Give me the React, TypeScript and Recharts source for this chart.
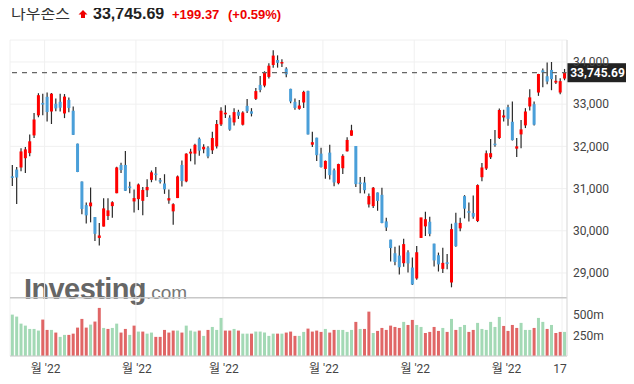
import { Bar, CartesianGrid, Cell, ComposedChart, ReferenceLine, XAxis, YAxis } from "recharts"

// Dow Jones daily candles, 2022-05-19 .. 2022-11-18
const opens = [
  31290, 31450, 31500, 31720, 31840, 32260, 32735, 33030, 33175, 32827, 33010, 33056, 32780, 33100, 32845, 32065,
  31167, 30608, 30580, 30325, 29830, 30100, 30350, 30584, 30890, 31560, 31560, 31050, 30695, 30750, 30710, 30960,
  31206, 31356, 31200, 31120, 30718, 30460, 30775, 31560, 31170, 31830, 31828, 32180, 31930, 31970, 31907, 32000,
  32520, 32760, 32680, 32568, 32820, 32513, 32961, 32830, 33126, 33457, 33440, 33646, 33929, 34047, 33969, 33843,
  33363, 33056, 32890, 33040, 33315, 32040, 32206, 31828, 31466, 31852, 31434, 31127, 31482, 31883, 32253, 32009,
  31143, 31143, 30624, 30584, 30907, 30852, 30222, 29790, 29467, 29412, 29231, 29490, 29128, 28870, 29830, 30104,
  30214, 29695, 29420, 29097, 29255, 28774, 30191, 30057, 30821, 30467, 30420, 30230, 31269, 31474, 31741, 32064,
  32198, 32686, 32930, 32583, 31946, 32284, 32497, 32946, 33000, 33276, 33803, 33662, 33811, 33512, 33276, 33607,
]
const highs = [
  31560, 31513, 31955, 31985, 32280, 32790, 33260, 33245, 33277, 33265, 33135, 33250, 33240, 33160, 32945, 32065,
  31167, 30670, 31025, 30325, 30183, 30773, 30773, 30700, 31515, 31610, 31890, 31160, 30980, 31120, 31040, 31220,
  31428, 31513, 31250, 31340, 30980, 30650, 31310, 31665, 31840, 31946, 32064, 32210, 32050, 32000, 32347, 32623,
  32930, 32977, 32740, 32906, 32867, 32830, 33120, 32906, 33386, 33670, 33780, 33969, 34281, 34157, 34063, 33874,
  33363, 33134, 33100, 33320, 33320, 32347, 32206, 31970, 31663, 32040, 31474, 31590, 31812, 32214, 32512, 32009,
  31277, 31277, 30883, 31040, 30907, 31017, 30309, 29790, 29624, 29648, 29813, 29537, 29364, 29640, 30310, 30451,
  30330, 29695, 29483, 29600, 29451, 30167, 30427, 30309, 30844, 30671, 30836, 31100, 31608, 31900, 32174, 32387,
  32900, 32867, 32985, 33063, 32198, 32623, 32906, 33355, 33063, 33720, 33843, 33987, 34000, 33690, 33614, 33835,
]
const lows = [
  31060, 30636, 31410, 31370, 31765, 32200, 32690, 32740, 32590, 32530, 32830, 32828, 32670, 32810, 32270, 31390,
  30390, 30170, 30200, 29760, 29653, 30100, 30254, 30310, 30890, 31370, 30945, 30890, 30435, 30490, 30370, 30800,
  31150, 31190, 31120, 30875, 30640, 30143, 30775, 31050, 31150, 31647, 31570, 31780, 31840, 31720, 31820, 31950,
  32480, 32670, 32370, 32497, 32650, 32497, 32790, 32710, 33100, 33280, 33400, 33607, 33866, 33866, 33882, 33638,
  33020, 32867, 32867, 32910, 32280, 31985, 31655, 31500, 31230, 31214, 31057, 31100, 31348, 31880, 32250, 31040,
  30891, 30883, 30553, 30540, 30474, 30180, 29994, 29270, 29184, 28963, 29150, 29010, 28715, 28840, 29830, 29876,
  29870, 29152, 29034, 29000, 29089, 28660, 29620, 29990, 30293, 30222, 30285, 30206, 31175, 31440, 31700, 31990,
  32174, 32591, 32489, 32140, 31749, 31954, 32434, 32851, 32497, 33197, 33402, 33470, 33331, 33480, 33237, 33567,
]
const closes = [
  31253, 31262, 31880, 31929, 32120, 32637, 33213, 32990, 32813, 33248, 32900, 32916, 33180, 32911, 32273, 31393,
  30517, 30365, 30669, 29927, 29889, 30530, 30483, 30677, 31501, 31438, 30947, 31029, 30775, 31097, 30968, 31038,
  31385, 31338, 31174, 30981, 30773, 30630, 31288, 31180, 31827, 31875, 32037, 31899, 31990, 31762, 32198, 32530,
  32845, 32798, 32396, 32812, 32727, 32803, 32833, 32774, 33310, 33337, 33761, 33912, 34152, 33980, 33999, 33707,
  33064, 32910, 32969, 33292, 32283, 32099, 31791, 31510, 31656, 31318, 31145, 31581, 31775, 32152, 32381, 31105,
  31135, 30962, 30822, 31020, 30706, 30184, 30077, 29590, 29261, 29135, 29684, 29226, 28726, 29491, 30316, 30274,
  29927, 29297, 29203, 29239, 29211, 30039, 29635, 30186, 30524, 30424, 30334, 31083, 31500, 31837, 31839, 32033,
  32862, 32733, 32653, 32148, 32001, 32403, 32827, 33161, 32514, 33715, 33748, 33537, 33593, 33554, 33546, 33746,
]
// volume, millions
const volumes = [
  500, 476, 391, 367, 327, 327, 307, 440, 315, 315, 283, 231, 255, 255, 270, 343,
  448, 343, 379, 416, 581, 339, 327, 339, 391, 283, 327, 255, 367, 295, 295, 270,
  283, 231, 231, 315, 283, 307, 307, 283, 367, 307, 295, 307, 243, 315, 351, 315,
  460, 307, 307, 327, 307, 270, 270, 270, 295, 295, 283, 243, 270, 270, 270, 283,
  295, 243, 243, 291, 331, 295, 307, 291, 327, 283, 315, 315, 315, 291, 315, 412,
  327, 327, 536, 278, 303, 339, 315, 367, 351, 339, 412, 375, 436, 375, 351, 278,
  291, 351, 303, 339, 291, 448, 315, 351, 375, 291, 315, 400, 327, 315, 412, 351,
  472, 363, 303, 375, 339, 400, 315, 315, 339, 460, 412, 327, 375, 278, 291, 291,
]

const tickIndex = [7.5, 28.5, 48.5, 71.5, 92.5, 113.5, 126.5]
const tickLabels = ["월 '22", "월 '22", "월 '22", "월 '22", "월 '22", "월 '22", "17"]
const priceTicks = [29000, 30000, 31000, 32000, 33000, 34000]
const volumeTicks = [250, 500]
const lastPrice = 33745.69
const change = "+199.37"
const changePct = "(+0.59%)"

// volume pane sits below this value on the volume axis
const VOL_PANE_TOP = 705

const data = closes.map((c, i) => ({
  i,
  o: opens[i],
  h: highs[i],
  l: lows[i],
  c,
  v: volumes[i],
  up: i === 0 || c >= closes[i - 1],
}))

const axisFont = "Roboto, 'Noto Sans CJK KR', sans-serif"

function Candle(props: any) {
  const { x, y, width, height, payload } = props
  const { o, h, l, c } = payload
  const top = Math.min(y, y + height)
  const span = Math.abs(height)
  const k = span / (h - l)
  const yo = top + (h - o) * k
  const yc = top + (h - c) * k
  const cx = x + width / 2
  return (
    <g>
      <line x1={cx} x2={cx} y1={top} y2={top + span} stroke="#2a2a2a" strokeWidth={1.2} />
      <rect
        x={x}
        y={Math.min(yo, yc)}
        width={width}
        height={Math.max(Math.abs(yc - yo), 1.5)}
        fill={c >= o ? "#ff0000" : "#4a9fd9"}
      />
    </g>
  )
}

function MonthTick({ x, y, payload }: any) {
  const label = tickLabels[tickIndex.indexOf(payload.value)]
  const last = label === "17"
  return (
    <text x={last ? x - 2 : x + 1} y={y + 17} textAnchor="middle" fontSize={12} fill="#444" fontFamily={axisFont}>
      {label}
    </text>
  )
}

function PriceTag({ viewBox }: any) {
  const x = viewBox.x + viewBox.width
  const y = viewBox.y
  return (
    <g>
      <rect x={x} y={y - 9.5} width={61} height={19} fill="#222" />
      <text x={x + 30.5} y={y + 4.5} textAnchor="middle" fill="#fff" fontSize={12} fontWeight="bold" fontFamily="Roboto">
        {lastPrice.toLocaleString("en-US", { minimumFractionDigits: 2 })}
      </text>
    </g>
  )
}

export default function App() {
  return (
    <div style={{ position: "relative", width: 626, height: 376 }}>
      <svg width={300} height={28} style={{ position: "absolute", left: -8, top: -8 }}>
        <text x={11} y={18.5} fontSize={16} fill="#333" fontFamily="'Noto Sans CJK KR', sans-serif">
          다우존스
        </text>
        <path d="M83 10 L87.5 14.5 L85 14.5 L85 18 L81 18 L81 14.5 L78.5 14.5 Z" fill="#e00" />
        <text x={93} y={19} fontSize={16} fontWeight="bold" fill="#222" fontFamily="'Liberation Sans', Arial, sans-serif">
          {lastPrice.toLocaleString("en-US", { minimumFractionDigits: 2 })}
        </text>
        <text x={172} y={19} fontSize={13} fontWeight="bold" fill="#e00" fontFamily="'Liberation Sans', Arial, sans-serif">
          {change}
        </text>
        <text x={228} y={19} fontSize={13} fontWeight="bold" fill="#e00" fontFamily="'Liberation Sans', Arial, sans-serif">
          {changePct}
        </text>
      </svg>

      <div
        style={{
          position: "absolute",
          left: 16,
          top: 267,
          fontFamily: "'Liberation Sans', Arial, sans-serif",
          lineHeight: "29px",
          whiteSpace: "nowrap",
        }}
      >
        <span style={{ fontSize: 29, fontWeight: "bold", color: "#666", letterSpacing: -0.6 }}>Investing</span>
        <span style={{ fontSize: 19, color: "#777" }}>.com</span>
      </div>

      <div style={{ position: "absolute", left: 0, top: 0 }}>
        <ComposedChart width={626} height={376} data={data} margin={{ top: 32, right: 0, left: 2, bottom: 0 }}>
          <CartesianGrid xAxisId="x" yAxisId="p" stroke="#f0f0f0" />
          <XAxis
            xAxisId="x"
            dataKey="i"
            type="number"
            domain={[-0.46, 127.64]}
            allowDataOverflow
            ticks={tickIndex}
            interval={0}
            tick={<MonthTick />}
            tickLine={false}
            tickSize={0}
            tickMargin={0}
            axisLine={{ stroke: "#ccc" }}
            height={28}
          />
          <XAxis xAxisId="xv" dataKey="i" type="number" domain={[-0.46, 127.64]} allowDataOverflow hide />
          <YAxis
            yAxisId="v"
            orientation="right"
            width={66}
            domain={[0, 3817]}
            allowDataOverflow
            ticks={volumeTicks}
            interval={0}
            tickFormatter={(v) => `${v}m`}
            axisLine={false}
            tickLine={false}
            tickSize={3}
            tickMargin={2}
            tick={{ fontSize: 12, fill: "#444", fontFamily: axisFont }}
          />
          <YAxis
            yAxisId="p"
            orientation="right"
            width={1}
            domain={[27032, 34521]}
            allowDataOverflow
            ticks={priceTicks}
            interval={0}
            tickFormatter={(v) => v.toLocaleString("en-US")}
            axisLine={{ stroke: "#ddd" }}
            tickLine={false}
            tickSize={4}
            tickMargin={2}
            tick={{ fontSize: 12, fill: "#444", fontFamily: axisFont }}
          />
          <ReferenceLine yAxisId="v" xAxisId="xv" y={VOL_PANE_TOP} stroke="#c8c8c8" strokeWidth={1.5} />
          <Bar xAxisId="xv" yAxisId="v" dataKey="v" barSize={3} isAnimationActive={false}>
            {data.map((d) => (
              <Cell key={d.i} fill={d.up ? "#a3d9b5" : "#e06666"} />
            ))}
          </Bar>
          <Bar
            xAxisId="x"
            yAxisId="p"
            dataKey={(d: any) => [d.l, d.h]}
            barSize={3}
            shape={<Candle />}
            isAnimationActive={false}
          />
          <ReferenceLine
            yAxisId="p"
            xAxisId="x"
            y={lastPrice}
            stroke="#666"
            strokeWidth={1.3}
            strokeDasharray="5 5"
            label={<PriceTag />}
          />
        </ComposedChart>
      </div>
    </div>
  )
}
